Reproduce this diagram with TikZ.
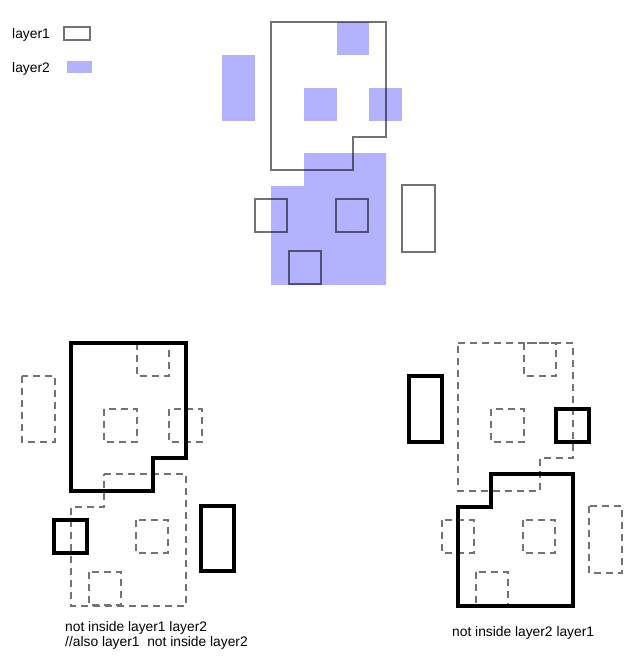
\documentclass[tikz,border=0pt]{standalone}
\usepackage{fontspec}
\setmainfont{Liberation Sans}
\usepackage{tikz}
\usetikzlibrary{positioning}

\begin{document}
\begin{tikzpicture}[
  x=1pt, y=-1pt,
  font=\fontsize{13.8}{15}\selectfont,
  layerone/.style={draw=black, draw opacity=0.55, line width=1.2pt},
  layertwo/.style={fill=blue, fill opacity=0.3, draw=none},
  miss/.style={draw=black!55, line width=1.4pt, dash pattern=on 7pt off 5pt},
  hit/.style={draw=black, line width=4pt, line join=miter},
  caption/.style={anchor=base west, inner sep=0pt},
]
\useasboundingbox (0,0) rectangle (643,662);

% legend
\node[caption] (leg1) at (12,38) {layer1};
\node[caption] (leg2) at (12,72) {layer2};
\draw[layerone] (64,27) rectangle (90,40);
\fill[layertwo] (67,61) rectangle (92,73);

% input: layer2 under layer1
\fill[layertwo] (337,22) rectangle (369,55);
\fill[layertwo] (222,55) rectangle (255,121);
\fill[layertwo] (304,88) rectangle (337,121);
\fill[layertwo] (369,88) rectangle (402,121);
\fill[layertwo] (304,153) -- (386,153) -- (386,285) -- (271,285) -- (271,186) -- (304,186) -- cycle;
\draw[layerone] (271,22) -- (386,22) -- (386,137) -- (353,137) -- (353,170) -- (271,170) -- cycle;
\draw[layerone] (255,199) rectangle (287,232);
\draw[layerone] (336,199) rectangle (368,232);
\draw[layerone] (289,251) rectangle (321,284);
\draw[layerone] (402,185) rectangle (435,252);

% not inside layer1 layer2
\begin{scope}[shift={(-200,321)}]
\draw[miss] (337,22) rectangle (369,55);
\draw[miss] (222,55) rectangle (255,121);
\draw[miss] (304,88) rectangle (337,121);
\draw[miss] (369,88) rectangle (402,121);
\draw[miss] (304,153) -- (386,153) -- (386,285) -- (271,285) -- (271,186) -- (304,186) -- cycle;
\draw[miss] (336,199) rectangle (368,232);
\draw[miss] (289,251) rectangle (321,284);
\draw[hit] (271,22) -- (386,22) -- (386,137) -- (353,137) -- (353,170) -- (271,170) -- cycle;
\draw[hit] (254,199) rectangle (287,232);
\draw[hit] (401,185) rectangle (434,250);
\end{scope}
\node[caption] (capA) at (65,631) {not inside layer1 layer2};
\node[caption] (capB) at (65,646) {//also layer1\ \ not inside layer2};

% not inside layer2 layer1
\begin{scope}[shift={(187,321)}]
\draw[miss] (271,22) -- (386,22) -- (386,137) -- (353,137) -- (353,170) -- (271,170) -- cycle;
\draw[miss] (255,199) rectangle (287,232);
\draw[miss] (336,199) rectangle (368,232);
\draw[miss] (289,251) rectangle (321,284);
\draw[miss] (402,185) rectangle (435,252);
\draw[miss] (337,22) rectangle (369,55);
\draw[miss] (304,88) rectangle (337,121);
\draw[hit] (222,55) rectangle (255,121);
\draw[hit] (369,88) rectangle (402,121);
\draw[hit] (304,153) -- (386,153) -- (386,285) -- (271,285) -- (271,186) -- (304,186) -- cycle;
\end{scope}
\node[caption] (capC) at (452,636) {not inside layer2 layer1};

\end{tikzpicture}
\end{document}
